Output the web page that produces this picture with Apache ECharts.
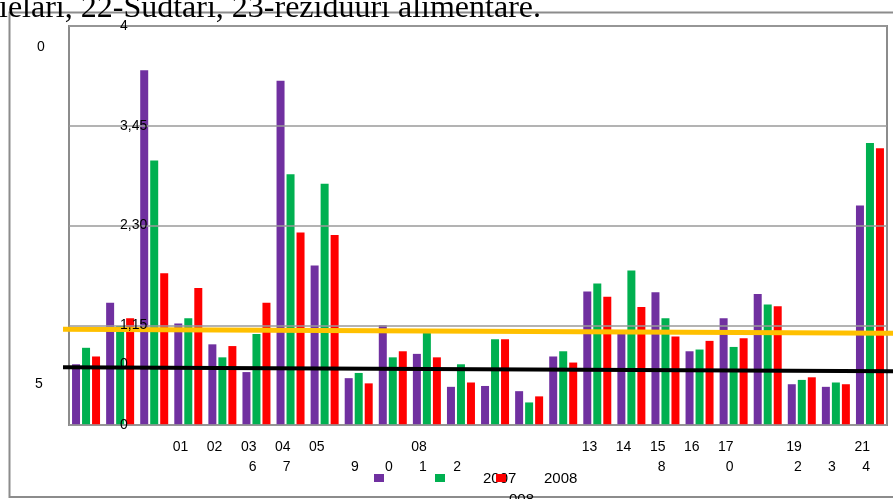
<!DOCTYPE html>
<html>
<head>
<meta charset="utf-8">
<script src="https://cdn.jsdelivr.net/npm/echarts@6/dist/echarts.min.js"></script>
<style>html,body{margin:0;padding:0;background:#fff;}#c{width:893px;height:499px;}</style>
</head>
<body>
<div id="c"></div>
<script>
var categories = ['c1','c2','c3','c4','c5','c6','c7','c8','c9','c10','c11','c12','c13','c14','c15','c16','c17','c18','c19','c20','c21','c22','c23','c24'];
var labelRow1 = ['', '', '', '01', '02', '03', '04', '05', '', '', '08', '', '', '', '', '13', '14', '15', '16', '17', '', '19', '', '21'];
var labelRow2 = ['', '', '', '', '', '6', '7', '', '9', '0', '1', '2', '', '', '', '', '', '8', '', '0', '', '2', '3', '4'];
var seriesNames = ['2006', '2007', '2008'];
var purpleValues = [0.70, 1.41, 4.09, 1.17, 0.93, 0.61, 3.97, 1.84, 0.54, 1.15, 0.82, 0.44, 0.45, 0.39, 0.79, 1.54, 1.06, 1.53, 0.85, 1.23, 1.51, 0.47, 0.44, 2.53];
var greenValues  = [0.89, 1.14, 3.05, 1.23, 0.78, 1.05, 2.89, 2.78, 0.60, 0.78, 1.06, 0.70, 0.99, 0.26, 0.85, 1.63, 1.78, 1.23, 0.87, 0.90, 1.39, 0.52, 0.49, 3.25];
var redValues    = [0.79, 1.23, 1.75, 1.58, 0.91, 1.41, 2.22, 2.19, 0.48, 0.85, 0.78, 0.49, 0.99, 0.33, 0.72, 1.48, 1.36, 1.02, 0.97, 1.00, 1.37, 0.55, 0.47, 3.19];
var yTickLabels = ['0', '1,15', '2,30', '3,45', '4'];
var orangeLine = [[0, 1.104], [1, 1.058]];
var blackLine = [[0, 0.667], [1, 0.621]];

var chart = echarts.init(document.getElementById('c'), null, {renderer: 'canvas'});
var font = 'Liberation Sans, Arial, sans-serif';
var option = {
  animation: false,
  backgroundColor: '#fff',
  textStyle: {fontFamily: font},
  grid: [
    {left: 69, right: 6, top: 26, bottom: 74, show: true, borderColor: '#8c8c8c', borderWidth: 2, containLabel: false},
    {left: 63, right: 0, top: 26, bottom: 74, show: false}
  ],
  legend: {
    left: 374, top: 474, padding: 0, itemWidth: 10, itemHeight: 8, itemGap: 51,
    icon: 'rect', formatter: function(){ return ''; },
    data: seriesNames, selectedMode: false,
    textStyle: {fontSize: 1, padding: 0}
  },
  xAxis: [
    {
      type: 'category', gridIndex: 0, data: categories,
      axisLine: {show: false}, axisTick: {show: false},
      axisLabel: {
        interval: 0, margin: 12, align: 'right', color: '#000', fontSize: 14, lineHeight: 20,
        fontFamily: font,
        formatter: function(v, i){ return labelRow1[i] + '\n' + labelRow2[i]; }
      }
    },
    {type: 'value', gridIndex: 1, min: 0, max: 1, show: false}
  ],
  yAxis: [
    {
      type: 'value', gridIndex: 0, min: 0, max: 4.6, interval: 1.15, z: 10,
      axisLine: {show: false}, axisTick: {show: false},
      splitLine: {show: true, lineStyle: {color: '#9a9a9a', width: 1.5}},
      axisLabel: {
        margin: -51, align: 'left', overflow: 'none', width: 80, color: '#000', fontSize: 14, fontFamily: font,
        formatter: function(v){ var i = Math.round(v / 1.15); return yTickLabels[i]; }
      }
    },
    {type: 'value', gridIndex: 1, min: 0, max: 4.6, show: false}
  ],
  series: [
    {name: seriesNames[0], type: 'bar', data: purpleValues, barWidth: 8, barGap: '25%', itemStyle: {color: '#7030A0'}},
    {name: seriesNames[1], type: 'bar', data: greenValues, barWidth: 8, barGap: '25%', itemStyle: {color: '#00B050'}},
    {name: seriesNames[2], type: 'bar', data: redValues, barWidth: 8, barGap: '25%', itemStyle: {color: '#FF0000'}},
    {type: 'line', xAxisIndex: 1, yAxisIndex: 1, data: orangeLine, symbol: 'none', lineStyle: {color: '#FFC000', width: 5}, z: 5, silent: true},
    {type: 'line', xAxisIndex: 1, yAxisIndex: 1, data: blackLine, symbol: 'none', lineStyle: {color: '#000', width: 4}, z: 5, silent: true}
  ],
  graphic: [
    {type: 'rect', shape: {x: 9.5, y: 12.5, width: 900, height: 484.5}, style: {fill: 'none', stroke: '#8c8c8c', lineWidth: 2}, z: 0, silent: true},
    {type: 'text', x: -1, y: -7, style: {text: 'ielari, 22-Sudtari, 23-reziduuri alimentare.', fontFamily: 'Liberation Serif, Times New Roman, serif', fontSize: 32, fill: '#000'}, z: 10},
    {type: 'text', x: 41, y: 47, style: {text: '0', fontFamily: font, fontSize: 14, fill: '#000', align: 'center', verticalAlign: 'middle'}},
    {type: 'text', x: 39, y: 384, style: {text: '5', fontFamily: font, fontSize: 14, fill: '#000', align: 'center', verticalAlign: 'middle'}},
    {type: 'text', x: 120, y: 364, style: {text: '0', fontFamily: font, fontSize: 14, fill: '#000', align: 'left', verticalAlign: 'middle'}, z: 10},
    {type: 'text', x: 483, y: 479, style: {text: '2007', fontFamily: font, fontSize: 15, fill: '#000', align: 'left', verticalAlign: 'middle'}, z: 1},
    {type: 'text', x: 544, y: 479, style: {text: '2008', fontFamily: font, fontSize: 15, fill: '#000', align: 'left', verticalAlign: 'middle'}, z: 1},
    {type: 'text', x: 509, y: 500, style: {text: '008', fontFamily: font, fontSize: 15, fill: '#000', align: 'left', verticalAlign: 'middle'}, z: 1}
  ]
};
chart.setOption(option);
</script>
</body>
</html>
